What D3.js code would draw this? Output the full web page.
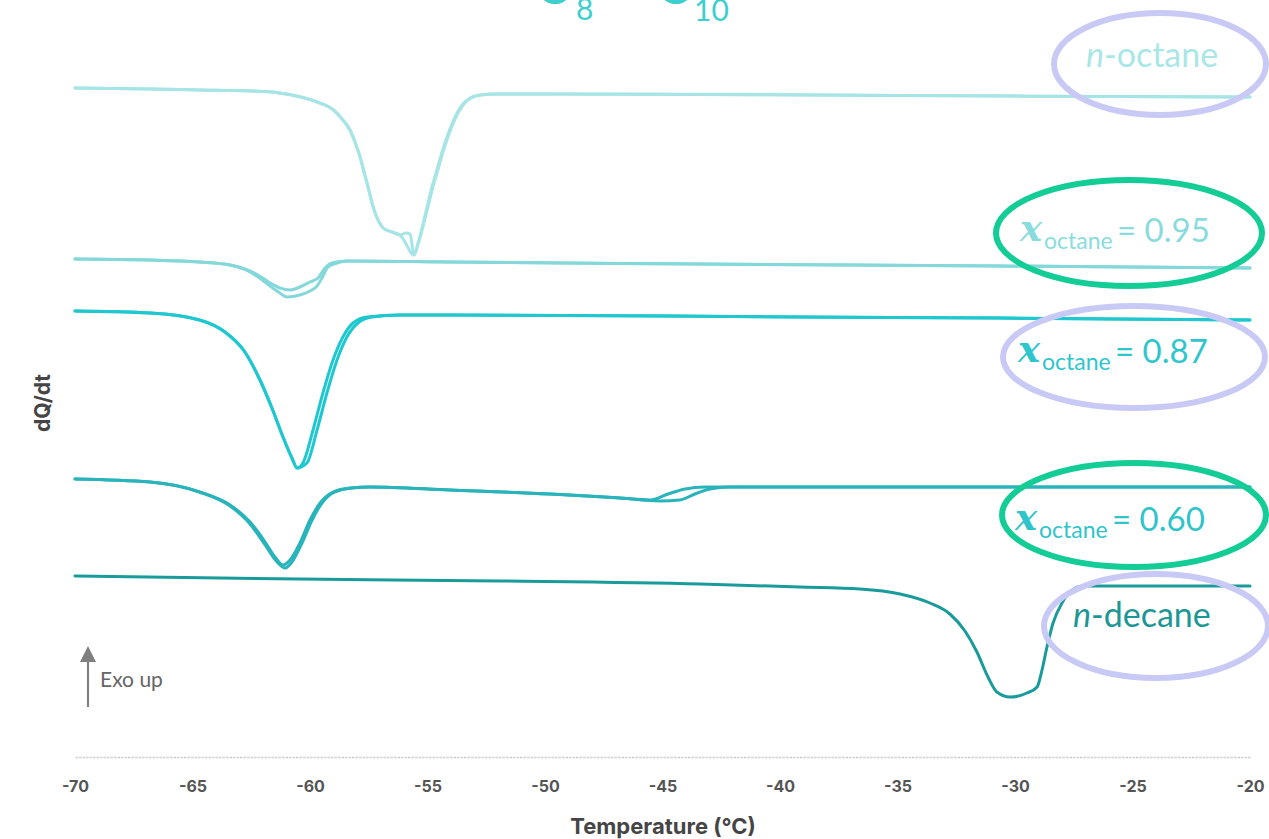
<!DOCTYPE html>
<html>
<head>
<meta charset="utf-8">
<script src="https://cdn.jsdelivr.net/npm/d3@7"></script>
<style>
  html, body { margin: 0; padding: 0; background: #ffffff; }
  svg { display: block; }
</style>
</head>
<body>
<svg id="chart" width="1269" height="839"></svg>
<script>
// DSC cooling/heating traces for the n-octane / n-decane binary system.
// Each trace: [temperature (°C), dQ/dt (arbitrary units, stacked offsets)]

const temperatureTicks = [-70, -65, -60, -55, -50, -45, -40, -35, -30, -25, -20];

const octaneRunA = [
  [-70.0, 66.9], [-66.8, 66.8], [-64.7, 66.7], [-62.5, 66.6], [-61.3, 66.4],
  [-60.4, 66.0], [-59.7, 65.5], [-59.0, 64.7], [-58.6, 63.7], [-58.3, 62.7],
  [-58.04, 61.2], [-57.87, 60.0], [-57.70, 58.5], [-57.53, 57.0], [-57.36, 55.4],
  [-57.23, 54.4], [-57.06, 53.5], [-56.89, 52.9], [-56.51, 52.5], [-56.17, 52.2],
  [-55.91, 51.3], [-55.66, 50.3], [-55.57, 50.2], [-55.40, 51.4], [-55.02, 55.0],
  [-54.81, 57.0], [-54.60, 58.7], [-54.38, 60.5], [-54.17, 62.0], [-53.96, 63.3],
  [-53.74, 64.4], [-53.49, 65.3], [-53.19, 65.9], [-52.77, 66.2], [-52.13, 66.3],
  [-49.79, 66.3], [-43.40, 66.25], [-34.89, 66.15], [-26.38, 66.05], [-20.0, 66.0]
];
const octaneRunB = [
  [-70.0, 66.9], [-66.8, 66.8], [-64.7, 66.7], [-62.5, 66.6], [-61.3, 66.4],
  [-60.4, 66.0], [-59.7, 65.5], [-59.0, 64.7], [-58.6, 63.7], [-58.3, 62.7],
  [-58.04, 61.2], [-57.87, 60.0], [-57.70, 58.5], [-57.53, 57.0], [-57.36, 55.4],
  [-57.23, 54.4], [-57.06, 53.5], [-56.89, 52.9], [-56.51, 52.5], [-56.17, 52.2],
  [-55.91, 52.4], [-55.74, 52.3], [-55.57, 50.2], [-55.40, 51.3], [-54.98, 55.0],
  [-54.77, 57.0], [-54.56, 58.7], [-54.34, 60.5], [-54.13, 62.0], [-53.92, 63.3],
  [-53.70, 64.4], [-53.45, 65.3], [-53.15, 65.9], [-52.73, 66.2], [-52.10, 66.3],
  [-49.79, 66.3], [-43.40, 66.25], [-34.89, 66.15], [-26.38, 66.05], [-20.0, 66.0]
];

const x95RunA = [
  [-70.0, 49.8], [-66.8, 49.7], [-64.7, 49.5], [-63.4, 49.2], [-62.77, 48.8],
  [-62.21, 48.2], [-61.70, 47.4], [-61.28, 46.9], [-60.85, 46.7], [-60.43, 47.0],
  [-60.0, 47.5], [-59.66, 47.9], [-59.36, 48.9], [-59.06, 49.4], [-58.43, 49.6],
  [-54.04, 49.5], [-43.40, 49.3], [-30.64, 49.1], [-20.0, 48.9]
];
const x95RunB = [
  [-70.0, 49.8], [-66.8, 49.7], [-64.7, 49.5], [-63.4, 49.2], [-62.77, 48.75],
  [-62.21, 48.0], [-61.70, 47.1], [-61.28, 46.4], [-60.98, 46.0], [-60.43, 46.2],
  [-60.0, 46.6], [-59.70, 47.1], [-59.49, 47.9], [-59.23, 49.0], [-58.85, 49.4],
  [-58.43, 49.6], [-54.04, 49.5], [-43.40, 49.3], [-30.64, 49.1], [-20.0, 48.9]
];

const x87RunA = [
  [-70.0, 44.6], [-66.8, 44.4], [-64.7, 43.7], [-63.62, 42.5], [-62.77, 40.5],
  [-62.13, 37.7], [-61.62, 34.9], [-61.15, 32.0], [-60.77, 29.9], [-60.55, 28.9],
  [-60.30, 29.4], [-59.87, 32.7], [-59.45, 36.4], [-59.02, 39.7],
  [-58.60, 42.0], [-58.17, 43.4], [-57.57, 44.0], [-56.17, 44.2], [-54.04, 44.2],
  [-39.15, 44.0], [-30.64, 43.9], [-20.0, 43.7]
];
const x87RunB = [
  [-70.0, 44.6], [-66.8, 44.4], [-64.7, 43.7], [-63.62, 42.5], [-62.77, 40.5],
  [-62.13, 37.7], [-61.62, 34.9], [-61.15, 32.0], [-60.77, 29.9], [-60.55, 28.9],
  [-60.13, 29.4], [-59.70, 32.7], [-59.28, 36.4], [-58.85, 39.7],
  [-58.43, 42.0], [-57.96, 43.4], [-57.36, 44.0], [-56.17, 44.2], [-54.04, 44.2],
  [-39.15, 44.0], [-30.64, 43.9], [-20.0, 43.7]
];

const x60RunA = [
  [-70.0, 27.8], [-66.8, 27.5], [-64.7, 26.5], [-63.4, 25.2], [-62.55, 23.5],
  [-61.91, 21.5], [-61.49, 20.0], [-61.15, 19.2], [-60.85, 19.7], [-60.43, 21.4],
  [-60.0, 23.7], [-59.57, 25.4], [-59.02, 26.5], [-58.30, 26.9], [-57.45, 27.0],
  [-54.04, 26.7], [-49.79, 26.3], [-46.81, 25.9], [-45.11, 25.6], [-44.26, 25.7],
  [-43.62, 26.3], [-42.98, 26.8], [-42.13, 27.0], [-39.15, 27.0], [-30.64, 27.0],
  [-20.0, 27.0]
];
const x60RunB = [
  [-70.0, 27.8], [-66.8, 27.5], [-64.7, 26.5], [-63.4, 25.1], [-62.55, 23.3],
  [-61.91, 21.2], [-61.40, 19.5], [-61.06, 18.9], [-60.77, 19.5], [-60.34, 21.4],
  [-59.91, 23.7], [-59.49, 25.4], [-58.94, 26.5], [-58.21, 26.9], [-57.45, 27.0],
  [-54.04, 26.7], [-49.79, 26.3], [-46.81, 25.9], [-45.53, 25.7], [-44.77, 26.3],
  [-44.04, 26.8], [-43.19, 27.0], [-39.15, 27.0], [-30.64, 27.0], [-20.0, 27.0]
];

const decaneRun = [
  [-70.0, 18.1], [-60.43, 17.8], [-51.91, 17.6], [-43.40, 17.3], [-39.15, 17.0],
  [-36.60, 16.8], [-34.89, 16.3], [-33.62, 15.4], [-32.77, 14.3], [-32.13, 12.6],
  [-31.62, 10.5], [-31.15, 8.0], [-30.77, 6.5], [-30.21, 6.0], [-29.49, 6.4],
  [-29.06, 7.0], [-28.85, 8.7], [-28.64, 11.0], [-28.38, 13.4], [-28.00, 15.4],
  [-27.66, 16.5], [-27.11, 17.1], [-24.26, 17.1], [-20.0, 17.1]
];

const sampleNames = ["n-octane", "0.95", "0.87", "0.60", "n-decane"];

// ---- drawing ----
const svg = d3.select("#chart");

const x = d3.scaleLinear().domain([-70, -20]).range([75, 1250]);
const y = d3.scaleLinear().domain([0, 70]).range([757, 57]);

const line = d3.line()
  .x(d => x(d[0]))
  .y(d => y(d[1]))
  .curve(d3.curveMonotoneX);

const traces = [
  { runs: [octaneRunA, octaneRunB], color: "#a6e4e5" },
  { runs: [x95RunA, x95RunB], color: "#84d8da" },
  { runs: [x87RunA, x87RunB], color: "#1fc7cf" },
  { runs: [x60RunA, x60RunB], color: "#29b4bb" },
  { runs: [decaneRun], color: "#199a9b" }
];

const curveGroup = svg.append("g").attr("class", "curves");
traces.forEach(t => {
  t.runs.forEach(run => {
    curveGroup.append("path")
      .datum(run)
      .attr("d", line)
      .attr("fill", "none")
      .attr("stroke", t.color)
      .attr("stroke-width", 3)
      .attr("stroke-linejoin", "round")
      .attr("stroke-linecap", "round");
  });
});

// x axis
const axis = d3.axisBottom(x)
  .tickValues(temperatureTicks)
  .tickFormat(d => String(d))
  .tickSize(0)
  .tickPadding(24);

const gx = svg.append("g")
  .attr("transform", `translate(0,${y(0)})`)
  .call(axis);
gx.select(".domain")
  .attr("stroke", "#cfcfcf")
  .attr("stroke-width", 1.6)
  .attr("stroke-dasharray", "2.5 1");
gx.selectAll(".tick text")
  .attr("fill", "#555555")
  .style("font-family", "Inter, 'Liberation Sans', sans-serif")
  .style("font-weight", "700")
  .style("font-size", "16px");

svg.append("text")
  .attr("x", 663)
  .attr("y", 834)
  .attr("text-anchor", "middle")
  .attr("fill", "#454545")
  .style("font-family", "Inter, 'Liberation Sans', sans-serif")
  .style("font-weight", "700")
  .style("font-size", "22px")
  .text("Temperature (°C)");

// y axis title
svg.append("text")
  .attr("transform", "translate(50,403) rotate(-90)")
  .attr("text-anchor", "middle")
  .attr("fill", "#454545")
  .style("font-family", "Inter, 'Liberation Sans', sans-serif")
  .style("font-weight", "700")
  .style("font-size", "21px")
  .text("dQ/dt");

// "Exo up" arrow
svg.append("line")
  .attr("x1", 88).attr("x2", 88)
  .attr("y1", 707).attr("y2", 660)
  .attr("stroke", "#808080")
  .attr("stroke-width", 2.2);
svg.append("path")
  .attr("d", "M88,646 L96,662 L80,662 Z")
  .attr("fill", "#808080");
svg.append("text")
  .attr("x", 100)
  .attr("y", 687)
  .attr("fill", "#666666")
  .style("font-family", "Lato, 'Open Sans', sans-serif")
  .style("font-size", "21px")
  .text("Exo up");

// title (C8 + C10), clipped by the top edge
const title = svg.append("g")
  .attr("fill", "#3dcfcf")
  .style("font-family", "Lato, 'Open Sans', sans-serif");
title.append("text").attr("x", 536).attr("y", 4).style("font-size", "48px").text("C");
title.append("text").attr("x", 576).attr("y", 20).style("font-size", "30px").text("8");
title.append("text").attr("x", 614).attr("y", 4).style("font-size", "48px").text("+");
title.append("text").attr("x", 657).attr("y", 4).style("font-size", "48px").text("C");
title.append("text").attr("x", 694).attr("y", 21).style("font-size", "30px").text("10");

// sample annotations
const ringLavender = "#c9c9f6";
const ringGreen = "#14cc96";

function ring(cx, cy, rx, ry, color) {
  svg.append("ellipse")
    .attr("cx", cx).attr("cy", cy).attr("rx", rx).attr("ry", ry)
    .attr("fill", "none").attr("stroke", color).attr("stroke-width", 6);
}

function alkaneLabel(xPos, base, name, color) {
  const t = svg.append("text")
    .attr("x", xPos).attr("y", base)
    .attr("fill", color)
    .style("font-family", "Lato, 'Open Sans', sans-serif")
    .style("font-size", "34px");
  t.append("tspan").style("font-style", "italic").text(name.slice(0, 1));
  t.append("tspan").text(name.slice(1));
}

function fractionLabel(xPos, base, value, color) {
  svg.append("text")
    .attr("x", xPos).attr("y", base - 1)
    .attr("fill", color)
    .style("font-family", "'DejaVu Serif', 'Liberation Serif', serif")
    .style("font-style", "italic")
    .style("font-weight", "700")
    .style("font-size", "37px")
    .text("x");
  svg.append("text")
    .attr("x", xPos + 24).attr("y", base + 7)
    .attr("fill", color)
    .style("font-family", "Lato, 'Open Sans', sans-serif")
    .style("font-size", "23px")
    .text("octane");
  svg.append("text")
    .attr("x", xPos + 97).attr("y", base)
    .attr("fill", color)
    .style("font-family", "Lato, 'Open Sans', sans-serif")
    .style("font-size", "33px")
    .text("= " + value);
}

ring(1160, 64, 106, 51, ringLavender);
alkaneLabel(1086, 67, sampleNames[0], "#a9e7e7");

ring(1129, 233, 133, 53, ringGreen);
fractionLabel(1020, 242, sampleNames[1], "#8adcdc");

ring(1134, 357, 131, 51, ringLavender);
fractionLabel(1018, 363, sampleNames[2], "#2ec6cc");

ring(1134, 515, 132, 52, ringGreen);
fractionLabel(1015, 531, sampleNames[3], "#30c4ca");

ring(1156, 626, 112, 52, ringLavender);
alkaneLabel(1073, 627, sampleNames[4], "#1c9796");
</script>
</body>
</html>
